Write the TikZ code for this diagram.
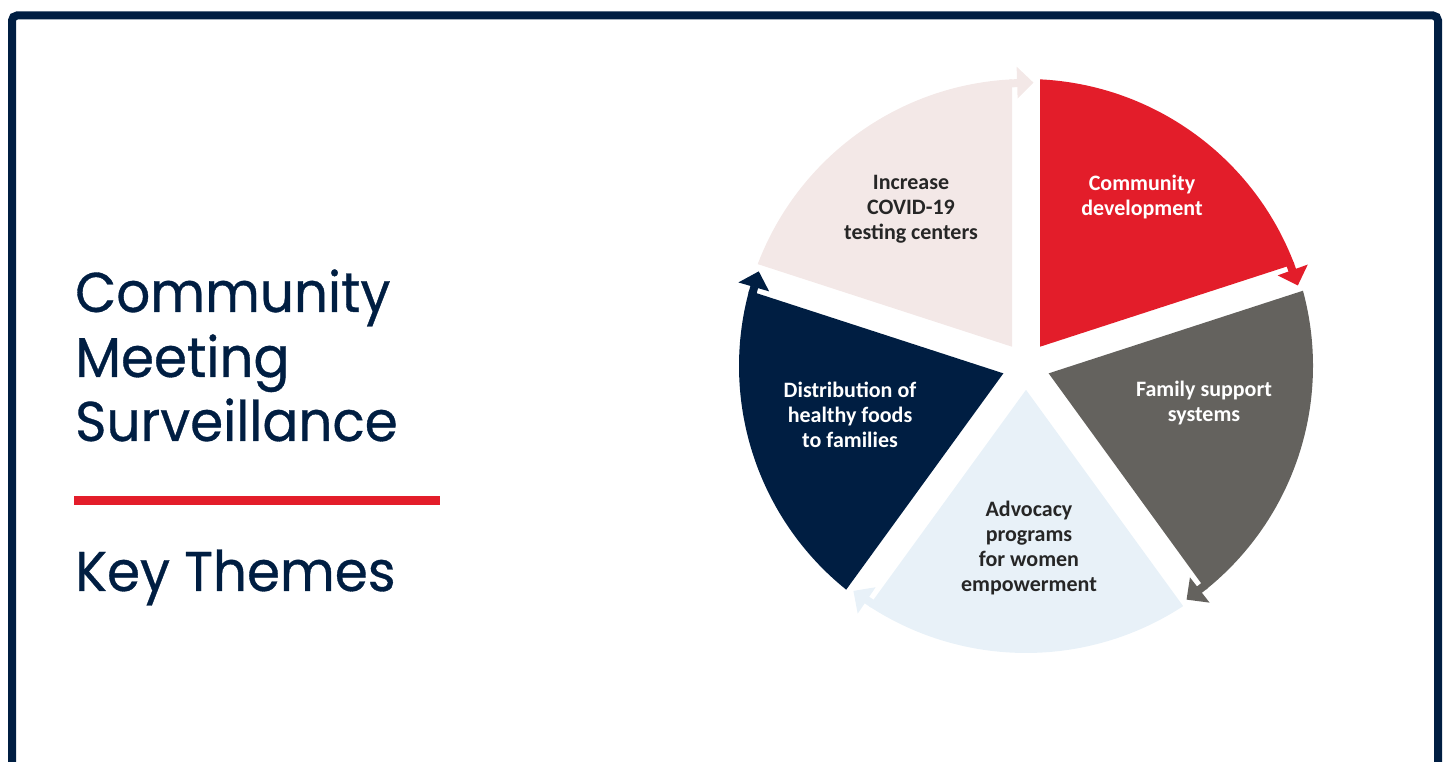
\documentclass[tikz,border=0pt]{standalone}
\usepackage{fontspec}
\newfontfamily\titlefont{Poppins}[FakeBold=0.6, FakeStretch=0.95]
\newfontfamily\labelfont{Carlito}
\definecolor{navy}{HTML}{001E42}
\definecolor{cred}{HTML}{E31D2A}
\definecolor{cgrey}{HTML}{64625E}
\definecolor{cblue}{HTML}{E8F1F8}
\definecolor{cpink}{HTML}{F3E8E7}
\definecolor{darktext}{HTML}{262626}
\begin{document}
\begin{tikzpicture}[x=1pt,y=1pt,
  heading/.style={anchor=base west, inner sep=0pt, text=navy,
    font=\titlefont\fontsize{56}{64}\selectfont},
  themelabel/.style={align=center, inner sep=0pt,
    font=\labelfont\bfseries\fontsize{22}{25}\selectfont}]
\useasboundingbox (0,0) rectangle (1443,762);
% page frame, open at the bottom
\draw[navy, line width=8pt, rounded corners=5pt]
  (12,-20) -- (12,746.5) -- (1438,746.5) -- (1438,-20);
% heading
\node[heading] (h1) at (75,450) {Community};
\node[heading] (h2) at (75,385) {Meeting};
\node[heading] (h3) at (75,321) {Surveillance};
\draw[cred, line width=9pt] (74,261) -- (440,261);
\node[heading] (h4) at (75,171) {Key Themes};
% cycle of five sectors, each ending in a clockwise arrow
\begin{scope}[shift={(1026,396)}]
\foreach \s/\col in {90/cred, 18/cgrey, -54/cblue, -126/navy, 162/cpink}{
  \pgfmathsetmacro{\secEnd}{\s-72}
  \pgfmathsetmacro{\secMid}{\s-36}
  \pgfmathsetmacro{\arcA}{\s-2.796}
  \pgfmathsetmacro{\arcB}{\secEnd+2.796}
  \pgfmathsetmacro{\shaftA}{\secEnd+3.3}
  \pgfmathsetmacro{\shaftB}{\secEnd+1.7}
  \pgfmathsetmacro{\headBase}{\secEnd+1.8}
  \pgfmathsetmacro{\headTip}{\secEnd-1.5}
  \fill[\col] (\secMid:23.82) -- (\arcA:287) arc[start angle=\arcA, end angle=\arcB, radius=287] -- cycle;
  \fill[\col] (\shaftA:287) arc[start angle=\shaftA, end angle=\shaftB, radius=287]
     -- (\shaftB:279) arc[start angle=\shaftB, end angle=\shaftA, radius=279] -- cycle;
  \fill[\col] (\headBase:267.5) -- (\headBase:299.5) -- (\headTip:283.5) -- cycle;
}
\end{scope}
% sector labels
\node[themelabel, text=white] (t1) at (1142,565) {Community\\development};
\node[themelabel, text=white] (t2) at (1204,359) {Family support\\systems};
\node[themelabel, text=darktext] (t3) at (1029,214) {Advocacy\\programs\\for women\\empowerment};
\node[themelabel, text=white] (t4) at (850,347) {Distribution of\\healthy foods\\to families};
\node[themelabel, text=darktext] (t5) at (911,553) {Increase\\COVID-19\\testing centers};
\end{tikzpicture}
\end{document}
